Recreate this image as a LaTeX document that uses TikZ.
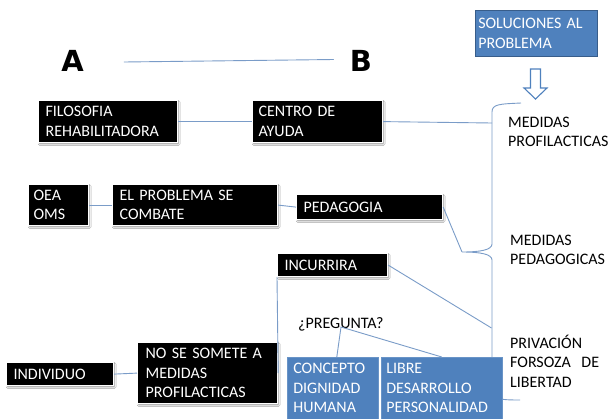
\documentclass[tikz,border=0pt]{standalone}
\usepackage{fontspec}
\setmainfont{Carlito}
\newfontfamily\heavyfont{DejaVu Sans}
\usetikzlibrary{shadows.blur}
\definecolor{linkblue}{RGB}{122,156,200}
\definecolor{boxblue}{RGB}{79,129,189}
\definecolor{boxborder}{RGB}{56,93,138}
\begin{document}
\begin{tikzpicture}[x=1pt,y=-1pt,
  every node/.style={font=\fontsize{16}{19.5}\selectfont},
  link/.style={draw=linkblue, line width=0.9pt},
  bbox/.style n args={3}{anchor=north west, fill=black, draw=white, line width=1.2pt,
    text=white, align=left, inner xsep=#3, inner ysep=0pt,
    text width={#1-2*(#3)}, minimum height=#2,
    blur shadow={shadow xshift=1pt, shadow yshift=-1.3pt, shadow blur radius=1.5pt, shadow opacity=45}},
  bluebox/.style n args={3}{anchor=north west, fill=boxblue, draw=boxborder, line width=0.6pt,
    text=white, align=left, inner xsep=#3, inner ysep=0pt,
    text width={#1-2*(#3)}, minimum height=#2,
    font=\fontsize{16}{19.5}\selectfont},
  side/.style={anchor=base west, align=left, inner sep=0pt, text width=110pt,
    font=\fontsize{16}{19.8}\selectfont},
  letter/.style={font=\heavyfont\bfseries\fontsize{29}{29}\selectfont, inner sep=0pt}
]
\useasboundingbox[fill=white] (0,0) rectangle (608,418);

% brace
\coordinate (bmid) at (492,123);
\coordinate (btip) at (462,252);
\coordinate (bpriv) at (491.5,328);
\coordinate (q) at (341,327);
\draw[link] (521,103) .. controls (500,104) and (492,104) .. (492,112)
  -- (492,244) .. controls (492,250) and (480,252) .. (btip)
  .. controls (480,252) and (492,254) .. (492,260)
  -- (492,392) .. controls (492,399) and (500,400) .. (520,400);

% hollow arrow
\draw[draw=boxblue, line width=1.1pt, fill=white, line join=miter]
  (530.5,69) -- (540.5,69) -- (540.5,88) -- (547,88) -- (535.5,99) -- (524,88) -- (530.5,88) -- cycle;

\node[bluebox={122pt}{46pt}{3pt}] (sol) at (475,10) {SOLUCIONES AL\\PROBLEMA};

\node[letter] (A) at (72.5,61) {A};
\node[letter] (B) at (361,61) {B};

\node[bbox={139pt}{42pt}{7pt}] (filo) at (38,100) {FILOSOFIA\\REHABILITADORA};
\node[bbox={130pt}{42pt}{6pt}] (centro) at (252,100) {CENTRO DE\\AYUDA};
\node[bbox={60pt}{41pt}{5pt}] (oea) at (28,184) {OEA\\OMS};
\node[bbox={165pt}{41pt}{7pt}] (prob) at (112,184) {EL PROBLEMA SE\\COMBATE};
\node[bbox={146pt}{25pt}{7pt}] (ped) at (296,194) {PEDAGOGIA};
\node[bbox={110pt}{23pt}{7pt}] (inc) at (277,253) {INCURRIRA};
\node[bbox={140pt}{61pt}{8pt}] (nose) at (137,342) {NO SE SOMETE A\\MEDIDAS\\PROFILACTICAS};
\node[bbox={107pt}{23pt}{7pt}] (ind) at (6,362) {INDIVIDUO};

\node[bluebox={91pt}{62pt}{6pt}, draw=boxblue!85!white] (con) at (287,357) {CONCEPTO\\DIGNIDAD\\HUMANA};
\node[bluebox={121pt}{62pt}{5pt}, draw=boxblue!85!white] (lib) at (381,357) {LIBRE\\DESARROLLO\\PERSONALIDAD};

\node[side] (mp) at (508,127) {MEDIDAS\\PROFILACTICAS};
\node[side] (mped) at (510,245) {MEDIDAS\\PEDAGOGICAS};
\node[side] (priv) at (510,348) {PRIVACIÓN\\FORSOZA~ DE\\LIBERTAD};
\node[anchor=base west, inner sep=0pt] (preg) at (298,328) {¿PREGUNTA?};

% connectors
\draw[link] ([xshift=40pt,yshift=-1pt]A.east) -- ([xshift=-16pt,yshift=1.5pt]B.west);
\draw[link] (filo.east) -- (centro.west);
\draw[link] (centro.east) -- (bmid);
\draw[link] (oea.east) -- (prob.west);
\draw[link] (prob.east) -- (ped.west);
\draw[link] (ped.east) -- (btip);
\draw[link] (inc.east) -- (bpriv);
\draw[link] (inc.south west) -- (nose.east);
\draw[link] (ind.east) -- (nose.west);
\draw[link] ([xshift=4pt]con.north) -- (q) -- (lib.north);
\end{tikzpicture}
\end{document}
